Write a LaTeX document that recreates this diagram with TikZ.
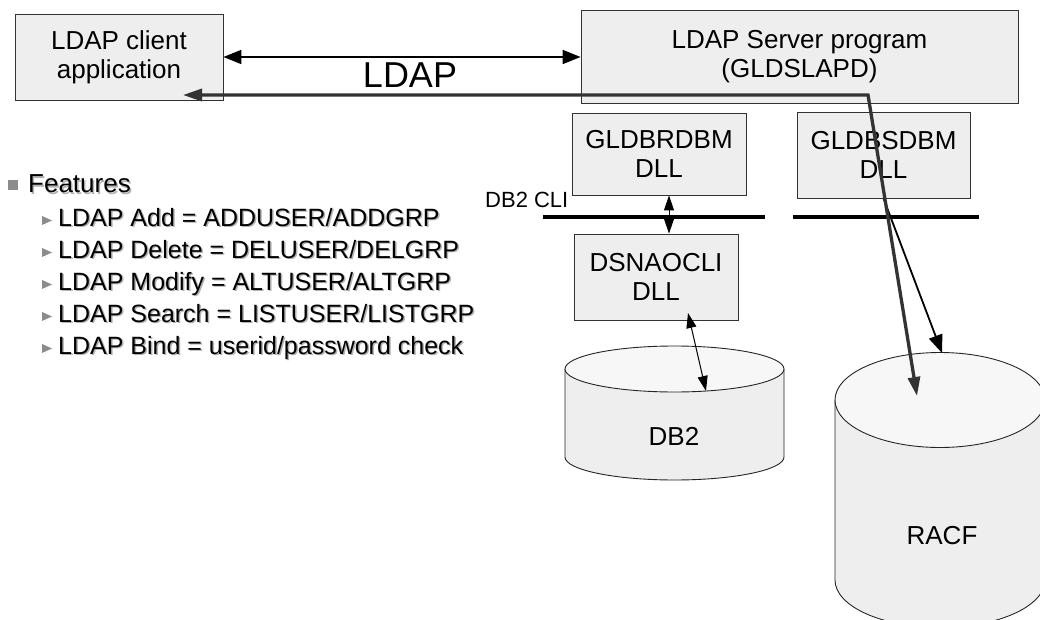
\documentclass[tikz,border=0pt]{standalone}
\usepackage{fontspec}
\setmainfont{Liberation Sans}
\usepackage{xcolor}
\usetikzlibrary{arrows.meta}
\usetikzlibrary{calc}

\definecolor{boxfill}{HTML}{EEEEEE}
\definecolor{topfill}{HTML}{F7F7F7}
\definecolor{edge}{HTML}{333333}
\definecolor{bulletgray}{HTML}{8C8C8C}

\begin{document}
\begin{tikzpicture}[
  x=1pt, y=-1pt,
  box/.style={rectangle, draw=edge, line width=0.8pt, fill=boxfill, align=center,
    inner sep=0pt, font=\fontsize{26}{29}\selectfont},
  item/.style={anchor=base west, inner sep=0pt, font=\fontsize{25}{30}\selectfont},
  shade/.style={item, text=black!30},
  store/.style={draw=black!85, line width=0.9pt},
  link/.style={line width=1.8pt, {Triangle[length=18pt,width=14pt]}-{Triangle[length=18pt,width=14pt]}},
  thinlink/.style={line width=1pt, {Triangle[length=15pt,width=10pt]}-{Triangle[length=15pt,width=10pt]}},
  query/.style={draw=edge, line width=3.3pt, {Triangle[length=19pt,width=12pt]}-{Triangle[length=19pt,width=12pt]}}
]
\useasboundingbox (0,0) rectangle (1040,620);

% feature list
\fill[bulletgray] (8,180) rectangle (18,190);
\node[shade, font=\fontsize{26}{30}\selectfont] (featshade) at (29.5,194.5) {Features};
\node[item, font=\fontsize{26}{30}\selectfont] (feat) at (28,193) {Features};
\foreach \txt [count=\i] in {{LDAP Add = ADDUSER/ADDGRP},{LDAP Delete = DELUSER/DELGRP},
    {LDAP Modify = ALTUSER/ALTGRP},{LDAP Search = LISTUSER/LISTGRP},
    {LDAP Bind = userid/password check}} {
  \pgfmathsetmacro\yb{194+32*\i}
  \fill[bulletgray] (42,\yb-10) -- (52,\yb-5.5) -- (42,\yb-1) -- cycle;
  \node[shade] (itemshade\i) at (59.5,\yb+1.5) {\txt};
  \node[item] (item\i) at (58,\yb) {\txt};
}

% data stores
\path[fill=boxfill] (565,369) -- (565,457) arc[start angle=180, end angle=0, x radius=109.5, y radius=23] -- (784,369) -- cycle;
\draw[store] (565,369) -- (565,457) arc[start angle=180, end angle=0, x radius=109.5, y radius=23] -- (784,369);
\draw[store, fill=topfill] (674.5,369) ellipse[x radius=109.5, y radius=23];
\node[font=\fontsize{26}{30}\selectfont] (db2) at (674,436) {DB2};

\path[fill=boxfill] (835,400) -- (835,580) arc[start angle=180, end angle=0, x radius=105, y radius=47.5] -- (1045,400) -- cycle;
\draw[store] (835,400) -- (835,580) arc[start angle=180, end angle=0, x radius=105, y radius=47.5] -- (1045,400);
\draw[store, fill=topfill] (940,400) ellipse[x radius=105, y radius=47.5];
\node[font=\fontsize{26}{30}\selectfont] (racf) at (942,536) {RACF};

% programs
\node[box, minimum width=208pt, minimum height=86pt] (client) at (119,57) {LDAP client\\application};
\node[box, minimum width=437pt, minimum height=93pt] (server) at (799.5,56.5) {LDAP Server program\\(GLDSLAPD)};
\node[box, minimum width=174pt, minimum height=82pt] (rdbm) at (659,154) {GLDBRDBM\\DLL};
\node[box, minimum width=173pt, minimum height=86pt] (sdbm) at (883.5,155) {GLDBSDBM\\DLL};
\node[box, minimum width=164pt, minimum height=86pt] (dsnao) at (656,277) {DSNAOCLI\\DLL};

% DB2 CLI boundary
\node[anchor=base west, inner sep=0pt, font=\fontsize{22}{26}\selectfont] (cli) at (485,208) {DB2 CLI};
\draw[line width=3.3pt] (543,217) -- (765,217);
\draw[line width=3.3pt] (793,217) -- (979,217);

\node[font=\fontsize{36}{40}\selectfont] (proto) at (410,75) {LDAP};

% connectors
\coordinate (dsnaoin) at (688,313);
\coordinate (db2top) at (706,391);
\coordinate (racftop) at (942,353);
\coordinate (clientin) at (183,95);
\coordinate (bend) at (868,95);
\coordinate (racfin) at (917,396);

\draw[link] (client.east) -- (client.east -| server.west);
\draw[thinlink] ($(rdbm.south)+(10,0)$) -- ($(dsnao.north)+(13,0)$);
\draw[thinlink] (dsnaoin) -- (db2top);
\draw[line width=1.8pt, -{Triangle[length=18pt,width=14pt]}] (sdbm.south) -- (racftop);
\draw[query] (clientin) -- (bend) -- (racfin);
\end{tikzpicture}
\end{document}
